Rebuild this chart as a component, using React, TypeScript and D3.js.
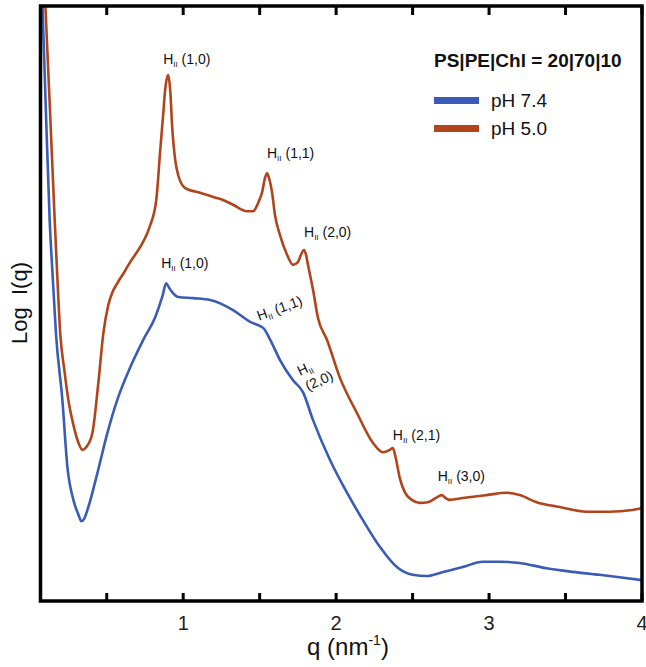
import * as d3 from 'd3';

// q in nm^-1, log intensity in arbitrary units
const qPH74 = [0.067, 0.080, 0.102, 0.127, 0.148, 0.168, 0.210, 0.243, 0.282, 0.315, 0.334, 0.354, 0.380, 0.439, 0.504, 0.569, 0.654, 0.739, 0.817, 0.863, 0.889, 0.909, 0.928, 0.967, 1.065, 1.176, 1.326, 1.438, 1.523, 1.569, 1.633, 1.718, 1.783, 1.849, 1.960, 2.071, 2.175, 2.286, 2.397, 2.501, 2.593, 2.678, 2.828, 2.958, 3.069, 3.200, 3.376, 3.546, 3.722, 3.853, 4.0];
const logPH74 = [11.0, 10.0, 8.25, 6.40, 5.39, 4.50, 3.38, 2.25, 1.70, 1.45, 1.34, 1.39, 1.58, 2.15, 2.82, 3.38, 3.93, 4.39, 4.77, 5.11, 5.34, 5.26, 5.19, 5.11, 5.09, 5.06, 4.89, 4.69, 4.59, 4.39, 4.05, 3.71, 3.51, 3.04, 2.37, 1.82, 1.36, 0.91, 0.57, 0.44, 0.42, 0.47, 0.57, 0.66, 0.66, 0.64, 0.55, 0.49, 0.44, 0.40, 0.35];

const qPH50 = [0.067, 0.099, 0.129, 0.160, 0.178, 0.196, 0.223, 0.249, 0.282, 0.315, 0.341, 0.367, 0.406, 0.445, 0.478, 0.510, 0.536, 0.569, 0.615, 0.654, 0.719, 0.765, 0.785, 0.824, 0.850, 0.869, 0.882, 0.902, 0.915, 0.928, 0.948, 0.967, 1.013, 1.111, 1.196, 1.261, 1.326, 1.418, 1.457, 1.490, 1.516, 1.535, 1.548, 1.561, 1.581, 1.600, 1.633, 1.679, 1.718, 1.751, 1.770, 1.790, 1.803, 1.816, 1.849, 1.881, 1.940, 2.025, 2.136, 2.240, 2.305, 2.351, 2.371, 2.390, 2.416, 2.449, 2.495, 2.547, 2.599, 2.632, 2.664, 2.690, 2.717, 2.743, 2.828, 2.984, 3.115, 3.200, 3.311, 3.461, 3.637, 3.787, 3.937, 4.0];
const logPH50 = [12.0, 10.0, 8.25, 6.40, 5.39, 4.50, 3.88, 3.38, 2.96, 2.66, 2.54, 2.59, 2.82, 3.66, 4.50, 4.97, 5.18, 5.34, 5.53, 5.70, 5.95, 6.18, 6.32, 6.74, 7.58, 8.17, 8.59, 8.84, 8.59, 7.97, 7.41, 7.16, 6.94, 6.86, 6.79, 6.74, 6.66, 6.55, 6.55, 6.69, 6.87, 7.11, 7.19, 7.11, 6.87, 6.49, 6.15, 5.82, 5.65, 5.70, 5.82, 5.90, 5.82, 5.65, 5.23, 4.76, 4.39, 3.75, 3.16, 2.66, 2.50, 2.54, 2.57, 2.40, 2.07, 1.83, 1.70, 1.65, 1.66, 1.70, 1.75, 1.78, 1.73, 1.70, 1.73, 1.78, 1.82, 1.78, 1.66, 1.58, 1.50, 1.50, 1.53, 1.56];

const seriesNames = ['pH 7.4', 'pH 5.0'];
const seriesColors = ['#3a5cb6', '#b2441c'];
const legendTitle = 'PS|PE|Chl = 20|70|10';

const xTicks = [0.5, 1, 1.5, 2, 2.5, 3, 3.5, 4];
const xTickLabels = [1, 2, 3, 4];

// Bragg peak labels, anchored at (q, log I)
const peakIdx = ['(1,0)', '(1,1)', '(2,0)', '(1,0)', '(1,1)', '(2,0)', '(2,1)', '(3,0)'];
const peakQ = [0.869, 1.548, 1.790, 0.856, 1.496, 1.764, 2.371, 2.664];
const peakLog = [9.02, 7.45, 6.12, 5.59, 4.71, 3.78, 2.71, 2.02];
const peakAngle = [0, 0, 0, 0, -20, -25, 0, 0];
const peakWrap = [false, false, false, false, false, true, false, false];

const font = '"Liberation Sans", Arial, sans-serif';
const frame = { left: 40.5, right: 642, top: 6, bottom: 601 };

function PeakLabel({ idx, angle, wrap, px, py }) {
	const sub = (
		<tspan fontSize={8} dy={3}>II</tspan>
	);
	if (wrap) {
		return (
			<g transform={`translate(${px},${py}) rotate(${angle})`}>
				<text fontSize={14}>H{sub}</text>
				<text x={1} y={17} fontSize={14}>{idx}</text>
			</g>
		);
	}
	return (
		<text transform={`translate(${px},${py}) rotate(${angle})`} fontSize={14} style={{ whiteSpace: 'pre' }}>
			H{sub}<tspan dy={-3}>{' ' + idx}</tspan>
		</text>
	);
}

export default function App() {
	const x = d3.scaleLinear().domain([0.067, 4]).range([frame.left, frame.right]);
	const y = d3.scaleLinear().domain([0, 10]).range([frame.bottom, frame.top]);

	const line = d3.line<[number, number]>()
		.x(d => x(d[0]))
		.y(d => y(d[1]))
		.curve(d3.curveMonotoneX);

	const series = [
		qPH74.map((q, i) => [q, logPH74[i]] as [number, number]),
		qPH50.map((q, i) => [q, logPH50[i]] as [number, number]),
	];

	return (
		<div style={{ position: 'fixed', left: 0, top: 0 }}>
			<svg width={646} height={667} fontFamily={font} style={{ display: 'block', background: '#fff' }}>
				<defs>
					<clipPath id="plot">
						<rect x={frame.left} y={frame.top} width={frame.right - frame.left} height={frame.bottom - frame.top} />
					</clipPath>
				</defs>

				<g clipPath="url(#plot)">
					{series.map((s, i) => (
						<path key={i} d={line(s)} fill="none" stroke={seriesColors[i]} strokeWidth={2.6} strokeLinejoin="round" />
					))}
				</g>

				{/* frame and ticks */}
				<rect x={frame.left} y={frame.top} width={frame.right - frame.left} height={frame.bottom - frame.top}
					fill="none" stroke="#000" strokeWidth={3.5} />
				{xTicks.map(t => (
					<g key={t}>
						<line x1={x(t)} x2={x(t)} y1={frame.bottom} y2={frame.bottom - 8} stroke="#000" strokeWidth={3} />
						<line x1={x(t)} x2={x(t)} y1={frame.top} y2={frame.top + 9} stroke="#000" strokeWidth={3} />
					</g>
				))}
				{xTickLabels.map(t => (
					<text key={t} x={x(t)} y={630} fontSize={20} textAnchor="middle" fill="#222">{t}</text>
				))}

				{/* axis titles */}
				<text x={348} y={655} fontSize={24} textAnchor="middle" fill="#111">
					q (nm<tspan fontSize={14} dy={-10}>-1</tspan><tspan dy={10}>)</tspan>
				</text>
				<text transform="translate(27,303) rotate(-90)" fontSize={22} textAnchor="middle" fill="#111" style={{ whiteSpace: 'pre' }}>
					{'Log  I(q)'}
				</text>

				{/* peak labels */}
				<g fill="#111">
					{peakIdx.map((p, i) => (
						<PeakLabel key={i} idx={p} angle={peakAngle[i]} wrap={peakWrap[i]} px={x(peakQ[i])} py={y(peakLog[i])} />
					))}
				</g>

				{/* legend */}
				<text x={434} y={67} fontSize={19} fontWeight="bold" fill="#111">{legendTitle}</text>
				{seriesNames.map((n, i) => (
					<g key={n} transform={`translate(434,${100.5 + i * 28})`}>
						<line x1={0} x2={45} stroke={seriesColors[i]} strokeWidth={7} />
						<text x={57} y={6.5} fontSize={19} fill="#111">{n}</text>
					</g>
				))}
			</svg>
		</div>
	);
}
